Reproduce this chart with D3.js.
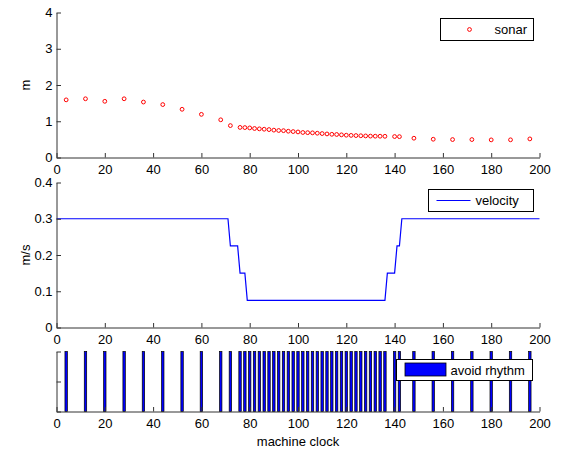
<!DOCTYPE html>
<html>
<head>
<meta charset="utf-8">
<script src="https://cdn.jsdelivr.net/npm/d3@7"></script>
<style>
	body { margin: 0; background: #fff; }
	text { font-family: 'Liberation Sans', Arial, sans-serif; font-size: 13px; fill: #000; }
</style>
</head>
<body>
<div id="chart"></div>
<script>
// machine clock at which a sonar reading / avoid pulse happened
const clock = [
	4, 12, 20, 28, 36, 44, 52, 60, 68, 72,
	76, 78, 80, 82, 84, 86, 88, 90, 92, 94, 96, 98, 100, 102, 104, 106, 108, 110,
	112, 114, 116, 118, 120, 122, 124, 126, 128, 130, 132, 134, 136,
	140, 142, 148, 156, 164, 172, 180, 188, 196
]
const sonar = [
	1.59, 1.62, 1.55, 1.62, 1.53, 1.46, 1.33, 1.19, 1.04, 0.88,
	0.83, 0.825, 0.816, 0.8, 0.79, 0.78, 0.77, 0.755, 0.745, 0.74, 0.725, 0.715, 0.705, 0.69, 0.685, 0.68, 0.67, 0.66,
	0.65, 0.64, 0.635, 0.625, 0.615, 0.61, 0.605, 0.6, 0.595, 0.59, 0.588, 0.587, 0.585,
	0.578, 0.575, 0.532, 0.504, 0.495, 0.495, 0.486, 0.488, 0.513
]
const velClock = [0, 71, 72, 75, 76, 78, 79, 136, 137, 140, 141, 142, 143, 200]
const velocity = [0.3, 0.3, 0.225, 0.225, 0.15, 0.15, 0.075, 0.075, 0.15, 0.15, 0.225, 0.225, 0.3, 0.3]

const xTicks = [0, 20, 40, 60, 80, 100, 120, 140, 160, 180, 200]
const sonarTicks = [0, 1, 2, 3, 4]
const velTicks = [0, 0.1, 0.2, 0.3, 0.4]
const rhythmTicks = [0, 0.5, 1]

const width = 562
const height = 450
const tick = 4.5
const axisColor = '#333'

const svg = d3
	.select('#chart')
	.append('svg')
	.attr('width', width)
	.attr('height', height)

const x = d3.scaleLinear().domain([0, 200]).range([56.5, 539.5])

const panels = [
	{ y: d3.scaleLinear().domain([0, 4]).range([157.5, 12.5]), ticks: sonarTicks, label: 'm', fmt: d3.format('d') },
	{ y: d3.scaleLinear().domain([0, 0.4]).range([327.5, 182.5]), ticks: velTicks, label: 'm/s', fmt: d => (d === 0 ? '0' : d3.format('.1f')(d)) },
	{ y: d3.scaleLinear().domain([0, 1]).range([411.5, 351.5]), ticks: rhythmTicks, label: null, fmt: () => '' }
]

// data layers first, axes on top
const sonarY = panels[0].y
svg.append('g')
	.selectAll('circle')
	.data(clock.map((c, i) => ({ c, v: sonar[i] })))
	.enter()
	.append('circle')
	.attr('cx', d => x(d.c))
	.attr('cy', d => sonarY(d.v))
	.attr('r', 1.9)
	.attr('fill', 'none')
	.attr('stroke', '#ff0000')
	.attr('stroke-width', 1)

const velY = panels[1].y
const velLine = d3
	.line()
	.x(d => x(d.c))
	.y(d => velY(d.v))
svg.append('path')
	.datum(velClock.map((c, i) => ({ c, v: velocity[i] })))
	.attr('d', velLine)
	.attr('fill', 'none')
	.attr('stroke', '#0000ff')
	.attr('stroke-width', 1.2)

const rhythmY = panels[2].y
const barW = x(1) - x(0)
svg.append('g')
	.selectAll('rect')
	.data(clock)
	.enter()
	.append('rect')
	.attr('x', d => x(d) - barW / 2)
	.attr('y', rhythmY(1))
	.attr('width', barW)
	.attr('height', rhythmY(0) - rhythmY(1))
	.attr('fill', '#0000ff')
	.attr('stroke', '#000')
	.attr('stroke-width', 0.7)

panels.forEach(p => {
	const [y0, y1] = p.y.range()
	const xAxis = d3
		.axisBottom(x)
		.tickValues(xTicks)
		.tickSizeInner(-tick)
		.tickSizeOuter(0)
		.tickPadding(tick + 3)
	const yAxis = d3
		.axisLeft(p.y)
		.tickValues(p.ticks)
		.tickFormat(p.fmt)
		.tickSizeInner(-tick)
		.tickSizeOuter(0)
		.tickPadding(4)

	const gx = svg.append('g').attr('transform', `translate(0,${y0})`).call(xAxis)
	const gy = svg.append('g').attr('transform', `translate(${x(0)},0)`).call(yAxis)
	;[gx, gy].forEach(g => {
		g.select('.domain').attr('stroke', axisColor)
		g.selectAll('.tick line').attr('stroke', axisColor)
		g.selectAll('text')
			.attr('font-family', null)
			.attr('font-size', null)
			.style('font-size', '13px')
	})

	if (p.label) {
		svg.append('text')
			.attr('transform', `translate(30,${(y0 + y1) / 2}) rotate(-90)`)
			.attr('text-anchor', 'middle')
			.text(p.label)
	}
})

svg.append('text')
	.attr('x', (x(0) + x(200)) / 2)
	.attr('y', 446)
	.attr('text-anchor', 'middle')
	.text('machine clock')

// legends
function legendBox(x0, y0, w, h) {
	const g = svg.append('g').attr('transform', `translate(${x0},${y0})`)
	g.append('rect')
		.attr('width', w)
		.attr('height', h)
		.attr('fill', '#fff')
		.attr('stroke', '#000')
		.attr('stroke-width', 1)
	return g
}

const lg1 = legendBox(440.5, 18.5, 93, 22)
lg1.append('circle')
	.attr('cx', 29)
	.attr('cy', 11)
	.attr('r', 1.9)
	.attr('fill', 'none')
	.attr('stroke', '#ff0000')
lg1.append('text').attr('x', 54).attr('y', 15.5).text('sonar')

const lg2 = legendBox(428.5, 189.5, 105, 22)
lg2.append('line')
	.attr('x1', 8)
	.attr('x2', 42)
	.attr('y1', 11)
	.attr('y2', 11)
	.attr('stroke', '#0000ff')
	.attr('stroke-width', 1)
lg2.append('text').attr('x', 47).attr('y', 15.5).text('velocity')

const lg3 = legendBox(396.5, 359.5, 136, 21)
lg3.append('rect')
	.attr('x', 8.5)
	.attr('y', 3.5)
	.attr('width', 41)
	.attr('height', 13)
	.attr('fill', '#0000ff')
	.attr('stroke', '#000')
	.attr('stroke-width', 0.8)
lg3.append('text').attr('x', 54).attr('y', 15).text('avoid rhythm')
</script>
</body>
</html>
